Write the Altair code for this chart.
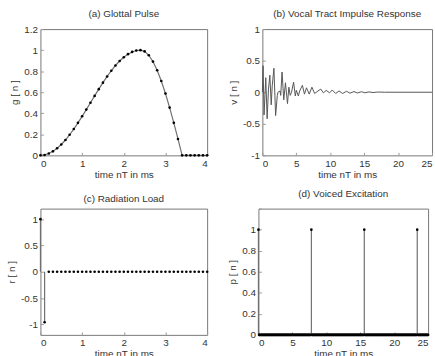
import altair as alt
import pandas as pd
import numpy as np

# ---------- data ----------
# (a) glottal pulse, sampled every 0.1 ms
g_time = [round(0.1 * i, 1) for i in range(41)]
g_vals = [0, 0.004, 0.017, 0.038, 0.067, 0.103, 0.146, 0.196, 0.25, 0.309,
          0.371, 0.435, 0.5, 0.565, 0.629, 0.691, 0.75, 0.804, 0.854, 0.897,
          0.933, 0.962, 0.983, 0.996, 1.0, 0.988, 0.951, 0.891, 0.809, 0.707,
          0.588, 0.454, 0.309, 0.156, 0, 0, 0, 0, 0, 0, 0]

v_time = [0.0, 0.1, 0.25, 0.5, 0.7, 0.9, 1.1, 1.3, 1.45, 1.7, 1.95, 2.2, 2.3, 2.6,
          2.7, 2.9, 3.15, 3.4, 3.7, 3.9, 4.1, 4.3, 4.6, 4.85, 5.0, 5.3, 5.5, 5.9,
          6.2, 6.5, 6.9, 7.3, 7.7, 8.2, 8.6, 9.0, 9.4, 9.9, 10.3, 10.8, 11.3, 11.8,
          12.4, 12.9, 13.5, 14.0, 14.6, 15.1, 15.7, 16.3, 17.0, 18.0, 25.0]
v_vals = [0.0, 0.42, -0.36, 0.23, -0.42, 0.05, 0.27, -0.2, 0.1, 0.38, -0.37, -0.05, 0.0, 0.02,
          -0.05, 0.32, -0.12, 0.15, -0.18, 0.08, -0.05, 0.0, 0.16, -0.06, 0.03, -0.06, 0.02, 0.11,
          -0.03, 0.07, -0.03, 0.08, -0.02, 0.02, 0.05, -0.01, 0.03, -0.01, 0.035, -0.02, 0.02, -0.02,
          0.015, -0.015, 0.01, -0.012, 0.008, -0.008, 0.005, -0.005, 0.003, 0.0, 0.0]

# (c) radiation load
r_time = g_time
r_vals = [1.0, -0.96] + [0.0] * 39

# (d) voiced excitation
p_time = [round(0.1 * i, 1) for i in range(251)]
pulse_times = [0.0, 7.8, 15.6, 23.4]
p_vals = [1.0 if t in pulse_times else 0.0 for t in p_time]

# axis ticks (the scales generate these; counts are taken from the lists)
x_ticks_a = [0, 1, 2, 3, 4]
y_ticks_a = [0, 0.2, 0.4, 0.6, 0.8, 1, 1.2]
x_ticks_b = [0, 5, 10, 15, 20, 25]
y_ticks_b = [-1, -0.5, 0, 0.5, 1]
y_ticks_c = [-1, -0.5, 0, 0.5, 1]
y_ticks_d = [0, 0.2, 0.4, 0.6, 0.8, 1, 1.2]
y_hidden_d = 1.2  # tick left without a label in (d)

FONT = "Liberation Sans"
LINE = "#707070"
TXT = "#333333"
W1, W2, H = 169, 172, 128
LABEL = "'' + round(datum.value * 100) / 100"


def axes(xticks, yticks, ytitle, ylabel=LABEL):
    xa = alt.Axis(tickCount=len(xticks) - 1, title="time nT in ms", labelExpr=LABEL,
                  labelPadding=6, titlePadding=1, labelOverlap=False)
    ya = alt.Axis(tickCount=len(yticks) - 1, title=ytitle, labelExpr=ylabel,
                  labelPadding=6, titlePadding=4, labelOverlap=False)
    return xa, ya


def stem_panel(times, vals, xs, ys, xa, ya, W, title):
    df = pd.DataFrame({"t": times, "v": vals})
    base = alt.Chart(df).encode(x=alt.X("t:Q", scale=xs, axis=xa),
                                y=alt.Y("v:Q", scale=ys, axis=ya))
    return alt.layer(
        base.mark_rule(color=LINE, strokeWidth=1.2).encode(y2=alt.datum(0)),
        base.mark_circle(color="black", size=7, opacity=1),
    ).properties(width=W, height=H, title=title)


# ---------- panel (a) ----------
xs_a = alt.Scale(domain=[0, 4], nice=False, zero=False)
ys_a = alt.Scale(domain=[0, 1.2], nice=False, zero=False)
xa, ya = axes(x_ticks_a, y_ticks_a, "g [ n ]")
df_a = pd.DataFrame({"t": g_time, "v": g_vals})
base_a = alt.Chart(df_a).encode(x=alt.X("t:Q", scale=xs_a, axis=xa),
                                 y=alt.Y("v:Q", scale=ys_a, axis=ya))
pa = alt.layer(
    base_a.mark_line(color=LINE, strokeWidth=1.2),
    base_a.mark_circle(color="black", size=7, opacity=1),
).properties(width=W1, height=H, title="(a) Glottal Pulse")

# ---------- panel (b) ----------
xs_b = alt.Scale(domain=[0, 25], nice=False, zero=False)
ys_b = alt.Scale(domain=[-1, 1], nice=False, zero=False)
xb, yb = axes(x_ticks_b, y_ticks_b, "v [ n ]")
df_b = pd.DataFrame({"t": v_time, "v": v_vals})
pb = alt.layer(
    alt.Chart(df_b).mark_line(color="#555555", strokeWidth=1).encode(
        x=alt.X("t:Q", scale=xs_b, axis=xb), y=alt.Y("v:Q", scale=ys_b, axis=yb)),
).properties(width=W2, height=H, title="(b) Vocal Tract Impulse Response")

# ---------- panel (c) ----------
xs_c = alt.Scale(domain=[0, 4], nice=False, zero=False)
ys_c = alt.Scale(domain=[-1.2, 1.2], nice=False, zero=False)
xc, yc = axes(x_ticks_a, y_ticks_c, "r [ n ]")
pc = stem_panel(r_time, r_vals, xs_c, ys_c, xc, yc, W1, "(c) Radiation Load")

# ---------- panel (d) ----------
xs_d = alt.Scale(domain=[0, 25], nice=False, zero=False)
ys_d = alt.Scale(domain=[0, 1.2], nice=False, zero=False)
xd, yd = axes(x_ticks_b, y_ticks_d, "p [ n ]",
              ylabel=f"datum.value > {y_hidden_d - 0.05} ? '' : " + LABEL)
pd_ = stem_panel(p_time, p_vals, xs_d, ys_d, xd, yd, W2, "(d) Voiced Excitation")

chart = alt.vconcat(
    alt.hconcat(pa, pb, spacing=18),
    alt.hconcat(pc, pd_, spacing=18),
    spacing=8,
).properties(
    padding={"left": 6, "top": 6, "right": 0, "bottom": 0},
    background="white",
).configure_view(
    stroke="#777777", strokeWidth=1
).configure_axis(
    domain=False, ticks=True, tickSize=alt.ExprRef("-3"), tickColor="#999999", grid=False,
    labelFont=FONT, labelFontSize=10, labelColor=TXT,
    titleFont=FONT, titleFontSize=10, titleFontWeight="normal", titleColor=TXT,
).configure_title(
    font=FONT, fontSize=10, fontWeight="normal", color=TXT, offset=5,
)

chart.save("out.html", embed_options={"renderer": "svg", "actions": False})
